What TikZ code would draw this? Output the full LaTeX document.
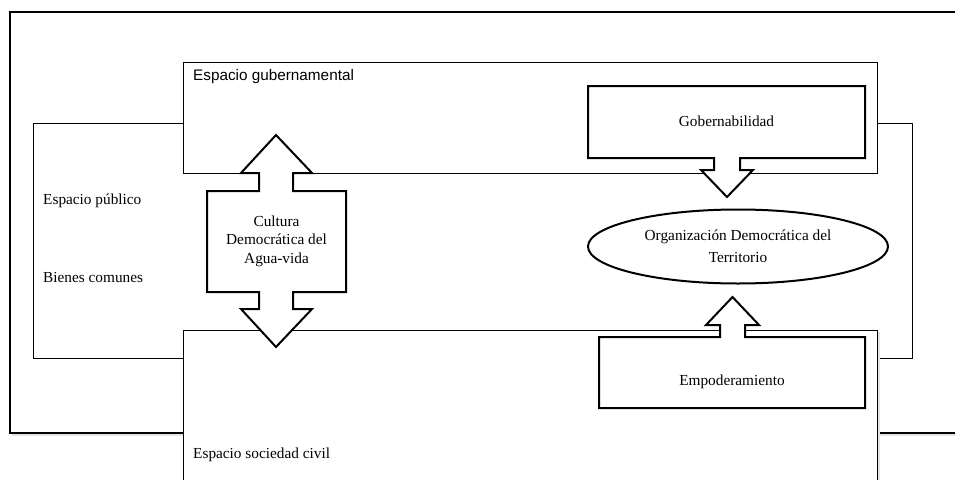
\documentclass[tikz,border=0pt]{standalone}
\usepackage{fontspec}
\setmainfont{Liberation Serif}
\newfontfamily\arialfont{Liberation Sans}
\usetikzlibrary{shapes.geometric}

\begin{document}
\begin{tikzpicture}[x = 1pt, y = -1pt,
        zone/.style = {draw, fill = white, line width = 0.9pt},
        shade/.style = {fill = black!10},
        callout/.style = {draw, fill = white, line width = 2pt, line join = miter},
        lbl/.style = {anchor = west, inner sep = 0pt, font = \fontsize{15.3}{18.5}\selectfont},
        txt/.style = {align = center, inner sep = 0pt, font = \fontsize{15.3}{18.5}\selectfont}]
        \useasboundingbox (0, 0) rectangle (955, 479);
        \clip (0, 0) rectangle (955, 479);

        \fill [shade] (12, 15) rectangle (962, 436);
        \draw [zone, line width = 1.3pt] (10, 12) rectangle (962, 433);
        \draw [zone] (33, 123) rectangle (912, 358);
        \draw [zone] (183, 62) rectangle (877, 173);
        \fill [shade] (185, 332) rectangle (880, 490);
        \draw [zone] (183, 330) rectangle (877, 490);

        \node [lbl, font = \arialfont\fontsize{15.3}{18.5}\selectfont] (espgub) at (193, 77) {Espacio gubernamental};
        \node [lbl] (esppub) at (43, 201) {Espacio público};
        \node [lbl] (bienes) at (43, 278) {Bienes comunes};
        \node [lbl] (espciv) at (193, 455) {Espacio sociedad civil};

        \draw [callout] (207, 191) -- (259, 191) -- (259, 173) -- (241, 173) -- (276, 135)
                -- (312, 173) -- (293, 173) -- (293, 191) -- (346, 191) -- (346, 292)
                -- (293, 292) -- (293, 309) -- (312, 309) -- (276, 347) -- (241, 309)
                -- (259, 309) -- (259, 292) -- (207, 292) -- cycle;
        \node [txt] (cultura) at (276.5, 241) {Cultura\\Democrática del\\Agua-vida};

        \draw [callout] (588, 86) -- (865, 86) -- (865, 158) -- (740, 158) -- (740, 170)
                -- (753, 170) -- (727, 197) -- (701, 170) -- (714, 170) -- (714, 158)
                -- (588, 158) -- cycle;
        \node [txt] (gob) at (726.5, 121) {Gobernabilidad};

        \node [ellipse, draw, line width = 2pt, minimum width = 300pt, minimum height = 74pt,
                txt, font = \fontsize{15.3}{21.5}\selectfont] (odt) at (738, 246.5)
                {Organización Democrática del\\Territorio};

        \draw [callout] (599, 337) -- (720, 337) -- (720, 325) -- (706, 325) -- (732.5, 297)
                -- (759, 325) -- (745, 325) -- (745, 337) -- (865, 337) -- (865, 408)
                -- (599, 408) -- cycle;
        \node [txt] (empo) at (732, 382) {Empoderamiento};
      \end{tikzpicture}
\end{document}
